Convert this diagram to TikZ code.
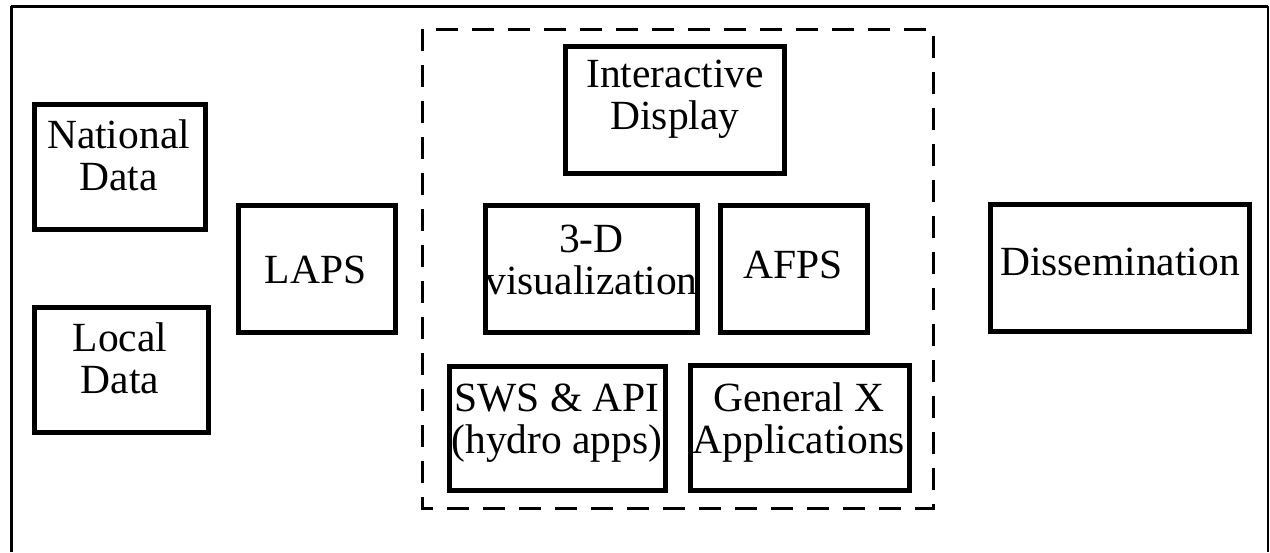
\documentclass[tikz,border=0pt]{standalone}
\usepackage{fontspec}
\setmainfont{Liberation Serif}
\begin{document}
\begin{tikzpicture}[x=0.5pt,y=-0.5pt,
  box/.style={draw=black, line width=2.5pt, rectangle, inner sep=0pt, fill=none},
  lbl/.style={align=center, inner sep=0pt, font=\fontsize{20.75}{21}\selectfont},
  grp/.style={draw=black, line width=1.5pt, dash pattern=on 11pt off 7pt}]
\useasboundingbox (0,0) rectangle (1270,552);
% outer frame
\coordinate (ftl) at (11,6);
\coordinate (ftr) at (1268,6);
\coordinate (fbl) at (11,552);
\coordinate (fbr) at (1268,552);
\draw[line width=1.5pt] (fbl) -- (ftl);
\draw[line width=1pt] (ftr) -- (fbr);
\draw[line width=1.5pt] (ftl) -- (ftr);
% dashed group
\coordinate (g1) at (422,29);
\coordinate (g2) at (933,508);
\draw[grp] (g1) rectangle (g2);
% boxes
\node[box, minimum width=85.5pt, minimum height=62.5pt] (nat) at (120,167) {};
\node[lbl] (natT) at (118.5,155) {National\\Data};
\node[box, minimum width=87pt, minimum height=62.5pt] (loc) at (121.5,370) {};
\node[lbl] (locT) at (120,358) {Local\\Data};
\node[box, minimum width=78.5pt, minimum height=63.5pt] (laps) at (317,269) {};
\node[lbl] (lapsT) at (315.5,270) {LAPS};
\node[box, minimum width=109.5pt, minimum height=63.5pt] (intd) at (675,110) {};
\node[lbl] (intdT) at (675,99) {Interactive\\Display};
\node[box, minimum width=106pt, minimum height=63.5pt] (vis) at (591.5,269) {};
\node[lbl] (visT) at (591.5,259.5) {3-D\\visualization};
\node[box, minimum width=73.5pt, minimum height=63.5pt] (afps) at (794,269) {};
\node[lbl] (afpsT) at (793,264.5) {AFPS};
\node[box, minimum width=108pt, minimum height=62pt] (sws) at (557.5,428.5) {};
\node[lbl] (swsT) at (557,423) {SWS \& API\\(hydro apps)};
\node[box, minimum width=109.5pt, minimum height=62.5pt] (genx) at (800,428) {};
\node[lbl] (genxT) at (799,422.5) {General X\\Applications};
\node[box, minimum width=129.5pt, minimum height=63.5pt] (dis) at (1120,268) {};
\node[lbl] (disT) at (1120,261.5) {Dissemination};
\end{tikzpicture}
\end{document}
